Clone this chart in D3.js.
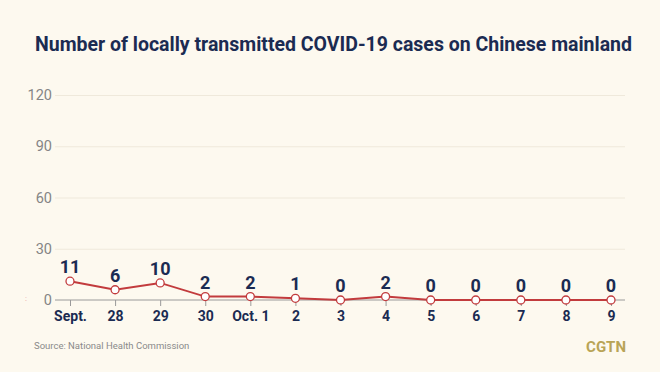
<!DOCTYPE html>
<html>
<head>
<meta charset="utf-8">
<script src="https://cdn.jsdelivr.net/npm/d3@7"></script>
<style>
  html, body { margin: 0; padding: 0; background: #fdf9ef; }
  svg { display: block; }
</style>
</head>
<body>
<div id="chart"></div>
<script>
// chart data
const dates = ["Sept.", "28", "29", "30", "Oct. 1", "2", "3", "4", "5", "6", "7", "8", "9"];
const cases = [11, 6, 10, 2, 2, 1, 0, 2, 0, 0, 0, 0, 0];
const yTicks = [0, 30, 60, 90, 120];

const W = 660, H = 372;
const margin = { top: 95, right: 35, bottom: 72, left: 55 };
const width = W - margin.left - margin.right;
const height = H - margin.top - margin.bottom;

const svg = d3.select("#chart").append("svg")
  .attr("width", W).attr("height", H);

svg.append("rect").attr("width", W).attr("height", H).attr("fill", "#fdf9ef");

// title
svg.append("text")
  .attr("x", 35).attr("y", 51)
  .attr("textLength", 597).attr("lengthAdjust", "spacingAndGlyphs")
  .attr("fill", "#1b2b52")
  .style("font-family", "Roboto, 'DejaVu Sans', sans-serif")
  .style("font-weight", 700)
  .style("font-size", "20px")
  .text("Number of locally transmitted COVID-19 cases on Chinese mainland");

const g = svg.append("g").attr("transform", `translate(${margin.left},${margin.top})`);

const x = d3.scalePoint().domain(dates).range([15, 556]);
const y = d3.scaleLinear().domain([0, 120]).range([height, 0]);

// gridlines + y labels
const yAxis = g.append("g")
  .call(d3.axisLeft(y).tickValues(yTicks).tickSize(-570).tickPadding(3));
yAxis.select(".domain").remove();
yAxis.selectAll(".tick line").attr("stroke", (d) => d === 0 ? "none" : "#efe9db").attr("stroke-width", 1);
yAxis.selectAll(".tick text")
  .attr("fill", "#858585")
  .style("font-family", "Roboto, sans-serif")
  .style("font-weight", 400)
  .style("font-size", "14.5px");

// x axis
const xAxis = g.append("g")
  .attr("transform", `translate(0,${height})`)
  .call(d3.axisBottom(x).tickSize(6).tickPadding(5).tickSizeOuter(0));
xAxis.select(".domain").attr("d", `M0,0H570`).attr("stroke", "#9a9a9a");
xAxis.selectAll(".tick line").attr("stroke", "#9a9a9a");
xAxis.selectAll(".tick text")
  .attr("fill", "#1b2b52")
  .style("font-family", "Roboto, sans-serif")
  .style("font-weight", 700)
  .style("font-size", "14px");

// line
const line = d3.line()
  .x((d, i) => x(dates[i]))
  .y((d) => y(d));

g.append("path")
  .datum(cases)
  .attr("fill", "none")
  .attr("stroke", "#c23b3d")
  .attr("stroke-width", 2)
  .attr("d", line);

g.selectAll(".dot")
  .data(cases)
  .enter()
  .append("circle")
  .attr("cx", (d, i) => x(dates[i]))
  .attr("cy", (d) => y(d))
  .attr("r", 4)
  .attr("fill", "#fff")
  .attr("stroke", "#c23b3d")
  .attr("stroke-width", 1.3);

g.selectAll(".val")
  .data(cases)
  .enter()
  .append("text")
  .attr("x", (d, i) => x(dates[i]))
  .attr("y", (d) => y(d) - 8)
  .attr("text-anchor", "middle")
  .attr("fill", "#1b2b52")
  .style("font-family", "Roboto, sans-serif")
  .style("font-weight", 700)
  .style("font-size", "18px")
  .text((d) => d);

// small mark near the axis
svg.append("text")
  .attr("x", 25).attr("y", 301)
  .attr("fill", "#e8a0a0")
  .style("font-family", "Roboto, sans-serif")
  .style("font-size", "8px")
  .text(":");

// footer
svg.append("text")
  .attr("x", 34).attr("y", 349)
  .attr("fill", "#8a8a8a")
  .style("font-family", "Roboto, sans-serif")
  .style("font-size", "9.5px")
  .text("Source: National Health Commission");

svg.append("text")
  .attr("x", 626).attr("y", 352)
  .attr("text-anchor", "end")
  .attr("fill", "#b9a456")
  .style("font-family", "Roboto, sans-serif")
  .style("font-weight", 700)
  .style("font-size", "15px")
  .text("CGTN");
</script>
</body>
</html>
